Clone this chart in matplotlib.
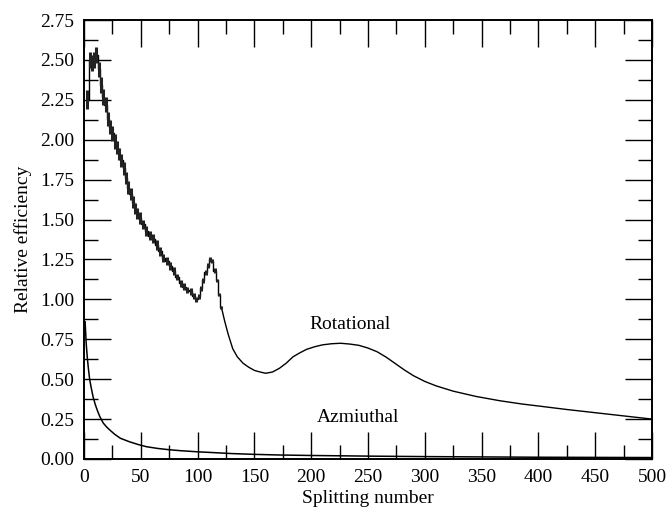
import matplotlib
matplotlib.use("Agg")
import matplotlib.pyplot as plt
import numpy as np

# Rotational splitting
rot_x = [3, 5, 7, 9, 11, 13, 15, 17, 19, 21, 23, 25, 27, 29, 31, 33, 35, 37, 39, 41,
         43, 45, 47, 49, 52, 55, 58, 61, 64, 67, 70, 73, 76, 79, 82, 85, 88, 91, 94, 97,
         99, 101, 103, 105, 107, 109, 111, 113, 115, 117, 119, 121, 124, 127, 131, 135,
         140, 145, 150, 155, 160, 166, 172, 178, 184, 190, 196, 203, 210, 218, 226, 234,
         242, 250, 258, 266, 274, 282, 290, 300, 310, 325, 345, 366, 385, 400, 425, 450,
         475, 500]
rot_y = [2.25, 2.50, 2.48, 2.50, 2.53, 2.44, 2.34, 2.27, 2.22, 2.13, 2.08, 2.04, 1.99,
         1.95, 1.91, 1.87, 1.82, 1.76, 1.70, 1.66, 1.61, 1.57, 1.54, 1.51, 1.47, 1.43,
         1.40, 1.38, 1.34, 1.30, 1.26, 1.24, 1.21, 1.18, 1.14, 1.10, 1.08, 1.06, 1.05,
         1.02, 1.00, 1.02, 1.07, 1.12, 1.17, 1.21, 1.25, 1.24, 1.18, 1.12, 1.03, 0.95,
         0.86, 0.78, 0.69, 0.64, 0.60, 0.575, 0.555, 0.545, 0.537, 0.545, 0.568, 0.60,
         0.64, 0.665, 0.687, 0.703, 0.715, 0.722, 0.725, 0.72, 0.712, 0.695, 0.672,
         0.638, 0.598, 0.558, 0.522, 0.486, 0.458, 0.425, 0.392, 0.365, 0.345, 0.332,
         0.31, 0.29, 0.27, 0.25]
rot_err = [0.06, 0.05, 0.05, 0.05, 0.05, 0.05, 0.05, 0.05, 0.045, 0.045, 0.045, 0.045,
           0.045, 0.04, 0.04, 0.04, 0.04, 0.04, 0.04, 0.04, 0.04, 0.035, 0.035, 0.035,
           0.03, 0.03, 0.03, 0.03, 0.03, 0.03, 0.025, 0.025, 0.025, 0.025, 0.02, 0.02,
           0.02, 0.02, 0.02, 0.02, 0.015, 0.015, 0.015, 0.015, 0.015, 0.015, 0.015,
           0.015, 0.015, 0.01, 0.01, 0.01, 0.008, 0.008, 0.008, 0.006, 0.006, 0.006,
           0.006, 0.006, 0.006, 0.006, 0.006, 0.006, 0.006, 0.006, 0.006, 0.006, 0.006,
           0.006, 0.006, 0.006, 0.006, 0.006, 0.005, 0.005, 0.005, 0.005, 0.005, 0.005,
           0.005, 0.004, 0.004, 0.004, 0.004, 0.004, 0.004, 0.004, 0.004, 0.004]

# Azimuthal splitting
azi_x = [1, 2, 3, 4, 5, 6, 8, 10, 12, 14, 17, 20, 23, 27, 32, 40, 48, 55, 65, 75, 85,
         100, 114, 130, 150, 172, 200, 250, 300, 350, 400, 450, 500]
azi_y = [0.86, 0.72, 0.63, 0.56, 0.50, 0.46, 0.39, 0.34, 0.30, 0.265, 0.225, 0.20,
         0.18, 0.155, 0.13, 0.108, 0.09, 0.077, 0.066, 0.058, 0.052, 0.045, 0.04,
         0.034, 0.029, 0.025, 0.022, 0.018, 0.015, 0.013, 0.011, 0.010, 0.009]

plt.rcParams['font.family'] = ['Liberation Serif', 'DejaVu Serif']

fig = plt.figure(figsize=(6.68, 5.17), dpi=100)
ax = fig.add_axes([0.1257, 0.1122, 0.8503, 0.8491])

# fine-grained, noisy part is drawn as steps, the smooth tail as a plain line
n_step = rot_x.index(121) + 1
ax.plot(rot_x[:n_step], rot_y[:n_step], color='black', lw=1.0, drawstyle='steps-mid')
ax.plot(rot_x[n_step - 1:], rot_y[n_step - 1:], color='black', lw=1.0)
ax.errorbar(rot_x[:n_step], rot_y[:n_step], yerr=rot_err[:n_step], fmt='none',
            ecolor='#222222', elinewidth=2.2, capsize=0)
ax.plot(azi_x, azi_y, color='black', lw=1.1)

ax.text(234, 0.84, 'Rotational', ha='center', va='center', fontsize=14)
ax.text(241, 0.26, 'Azmiuthal', ha='center', va='center', fontsize=14)

ax.set_xlim(0, 500)
ax.set_ylim(0, 2.75)
ax.set_xticks(np.arange(0, 501, 50))
ax.set_xticks(np.arange(0, 501, 25), minor=True)
ax.set_yticks(np.arange(0, 2.76, 0.25))
ax.set_yticks(np.arange(0, 2.76, 0.125), minor=True)
ax.set_yticklabels([f'{v:.2f}' for v in np.arange(0, 2.76, 0.25)])

ax.tick_params(which='both', direction='in', top=True, right=True,
               labelsize=14, width=1.0, color='black')
ax.tick_params(which='major', length=19.5, pad=7)
ax.tick_params(which='minor', length=10)
for s in ax.spines.values():
    s.set_linewidth(1.4)

ax.set_xlabel('Splitting number', fontsize=14, labelpad=3)
ax.set_ylabel('Relative efficiency', fontsize=14, labelpad=6)

fig.savefig('out.png', dpi=100)
